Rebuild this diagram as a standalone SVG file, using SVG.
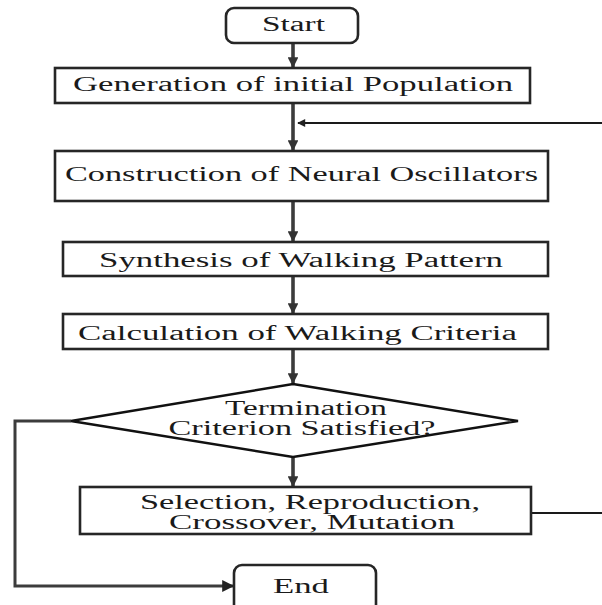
<svg xmlns="http://www.w3.org/2000/svg" width="602" height="605" viewBox="0 0 602 605">
<style>
.box{fill:#fff;stroke:#262626;stroke-width:2.6}
.t{font-family:"Liberation Serif","DejaVu Serif","Times New Roman",serif;font-size:20px;fill:#1a1a1a;text-anchor:middle}
.v{stroke:#3c3c3c;stroke-width:3.6;fill:none}
.thin{stroke:#1a1a1a;stroke-width:2;fill:none}
</style>
<defs>
<marker id="ah" viewBox="0 0 10 10" refX="9" refY="5" markerWidth="3.2" markerHeight="3" orient="auto" markerUnits="strokeWidth">
<path d="M0,0 L10,5 L0,10 z" fill="#333"/>
</marker>
<marker id="ahs" viewBox="0 0 10 10" refX="9" refY="5" markerWidth="5" markerHeight="4" orient="auto" markerUnits="strokeWidth">
<path d="M0,0 L10,5 L0,10 z" fill="#222"/>
</marker>
</defs>
<rect width="602" height="605" fill="#fff"/>
<g id="connectors">
<line class="v" x1="293" y1="44" x2="293" y2="67" marker-end="url(#ah)"/>
<line class="v" x1="293" y1="104" x2="293" y2="150" marker-end="url(#ah)"/>
<line class="thin" x1="602" y1="123" x2="298" y2="123" marker-end="url(#ahs)"/>
<line class="v" x1="293" y1="202" x2="293" y2="241" marker-end="url(#ah)"/>
<line class="v" x1="293" y1="277" x2="293" y2="313" marker-end="url(#ah)"/>
<line class="v" x1="293" y1="350" x2="293" y2="383" marker-end="url(#ah)"/>
<line class="v" x1="293" y1="458" x2="293" y2="486" marker-end="url(#ah)"/>
<line class="thin" x1="531" y1="513" x2="602" y2="513"/>
<polyline class="v" style="stroke-width:3" points="71,421 15,421 15,586 233,586" marker-end="url(#ahs)"/>
</g>
<g id="start">
<rect class="box" x="226" y="8" width="132" height="35" rx="8"/>
<text class="t" x="293.5" y="31" textLength="63" lengthAdjust="spacingAndGlyphs">Start</text>
</g>
<g id="generation">
<rect class="box" x="55" y="68" width="475" height="35"/>
<text class="t" x="293" y="91" textLength="440" lengthAdjust="spacingAndGlyphs">Generation of initial Population</text>
</g>
<g id="construction">
<rect class="box" x="55" y="151" width="493" height="50"/>
<text class="t" x="301.5" y="181" textLength="473" lengthAdjust="spacingAndGlyphs">Construction of Neural Oscillators</text>
</g>
<g id="synthesis">
<rect class="box" x="63" y="242" width="485" height="34"/>
<text class="t" x="301" y="267" textLength="404" lengthAdjust="spacingAndGlyphs">Synthesis of Walking Pattern</text>
</g>
<g id="calculation">
<rect class="box" x="63" y="314" width="485" height="35"/>
<text class="t" x="297.5" y="340" textLength="439" lengthAdjust="spacingAndGlyphs">Calculation of Walking Criteria</text>
</g>
<g id="termination">
<polygon class="box" style="stroke-width:2.4;stroke:#111" points="293,384 518,421 293,457 71,421"/>
<text class="t" x="306" y="415" textLength="162" lengthAdjust="spacingAndGlyphs">Termination</text>
<text class="t" x="302" y="435" textLength="267" lengthAdjust="spacingAndGlyphs">Criterion Satisfied?</text>
</g>
<g id="selection">
<rect class="box" x="80" y="487" width="451" height="47"/>
<text class="t" x="310" y="509" textLength="340" lengthAdjust="spacingAndGlyphs">Selection, Reproduction,</text>
<text class="t" x="312" y="529" textLength="286" lengthAdjust="spacingAndGlyphs">Crossover, Mutation</text>
</g>
<g id="end">
<rect class="box" x="234" y="565" width="142" height="60" rx="8"/>
<text class="t" x="301" y="593" textLength="56" lengthAdjust="spacingAndGlyphs">End</text>
</g>
</svg>
